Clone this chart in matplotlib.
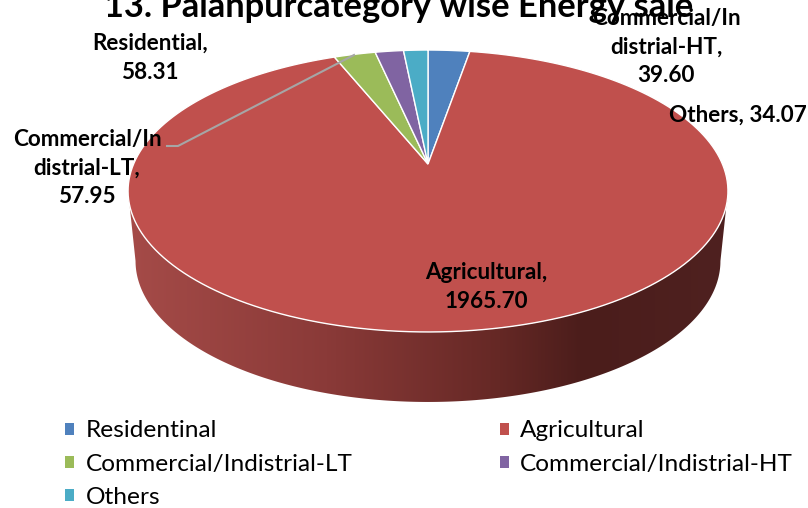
import numpy as np
import matplotlib
matplotlib.use('Agg')
import matplotlib.pyplot as plt
from matplotlib.colors import LinearSegmentedColormap
from matplotlib.patches import Patch, Polygon

plt.rcParams['font.family'] = ['Lato', 'DejaVu Sans']

title = '13. Palanpurcategory wise Energy sale'
categories = ['Residentinal', 'Agricultural', 'Commercial/Indistrial-LT',
              'Commercial/Indistrial-HT', 'Others']
values = [58.31, 1965.70, 57.95, 39.60, 34.07]
colors = ['#4F81BD', '#C0504D', '#9BBB59', '#8064A2', '#4BACC6']
label_names = ['Residential,', 'Agricultural,', 'Commercial/In\ndistrial-LT,',
               'Commercial/In\ndistrial-HT,', 'Others,']
label_pos = [(150, 58), (486, 287), (87, 168), (666, 47), (738, 115)]

# projection of the pie disc, in pixels
CX, CY = 428, 164
A, B, K = 135.8, 294.4, 0.1915


def project(theta, r=1.0):
    # theta is clockwise from 12 o'clock
    u = r * np.sin(theta)
    v = r * np.cos(theta)
    w = 1 + K * v
    return CX + B * u / w, CY - A * v / w


fig = plt.figure(figsize=(8.08, 5.08), dpi=100)
ax = fig.add_axes([0, 0, 1, 1])
ax.set_xlim(0, 808)
ax.set_ylim(508, 0)
ax.axis('off')

# side wall: area between front rim and the shifted lower rim
widest = np.pi - np.arccos(K)
t = np.linspace(widest, 2 * np.pi - widest, 300)
top_x, top_y = project(t)
bot_x = 427.5 + (top_x - 427.5) * 0.975
bot_y = top_y + 70
side = np.column_stack([np.r_[top_x, bot_x[::-1]], np.r_[top_y, bot_y[::-1]]])
cmap = LinearSegmentedColormap.from_list('side', [(0, '#A54B48'), (0.33, '#8A3A38'),
                                                  (0.62, '#652825'), (0.76, '#4B1D1B'),
                                                  (1, '#4F2120')])
img = ax.imshow(np.linspace(0, 1, 256)[None, :], cmap=cmap, aspect='auto',
                extent=[128, 728, 410, 180], zorder=1)
img.set_clip_path(Polygon(side, closed=True, transform=ax.transData))
ax.set_xlim(0, 808)
ax.set_ylim(508, 0)

# top face
edges = np.r_[0, np.cumsum(values)] / np.sum(values) * 2 * np.pi
for i, color in enumerate(colors):
    th = np.linspace(edges[i], edges[i + 1], 200)
    x, y = project(th)
    ax.fill(np.r_[CX, x], np.r_[CY, y], facecolor=color, edgecolor='white',
            linewidth=1.0, joinstyle='miter', zorder=2)

# leader line for the LT label
ax.plot([167, 178, 354], [146, 146, 55], color='#A6A6A6', linewidth=1.5, zorder=3)

for name, value, pos in zip(label_names, values, label_pos):
    sep = ' ' if name == 'Others,' else '\n'
    ax.text(pos[0], pos[1], f'{name}{sep}{value:.2f}', ha='center', va='center',
            fontsize=16.2, fontweight='bold', color='black', linespacing=1.46, zorder=4)

ax.text(399, 7, title, ha='center', va='center', fontsize=24.8, fontweight='bold',
        color='black', zorder=4)

# legend filled by column, so rows read across
order = [0, 2, 4, 1, 3]
handles = [Patch(facecolor=colors[i], edgecolor='none') for i in order]
ax.legend(handles, [categories[i] for i in order], ncol=2, frameon=False,
          loc='upper left', bbox_to_anchor=(58 / 808, 1 - 413 / 508), fontsize=17.6,
          handlelength=0.37, handleheight=0.37, handletextpad=0.45, labelspacing=0.5,
          columnspacing=6.05, borderpad=0.3, borderaxespad=0)

fig.savefig('out.png', dpi=100)
